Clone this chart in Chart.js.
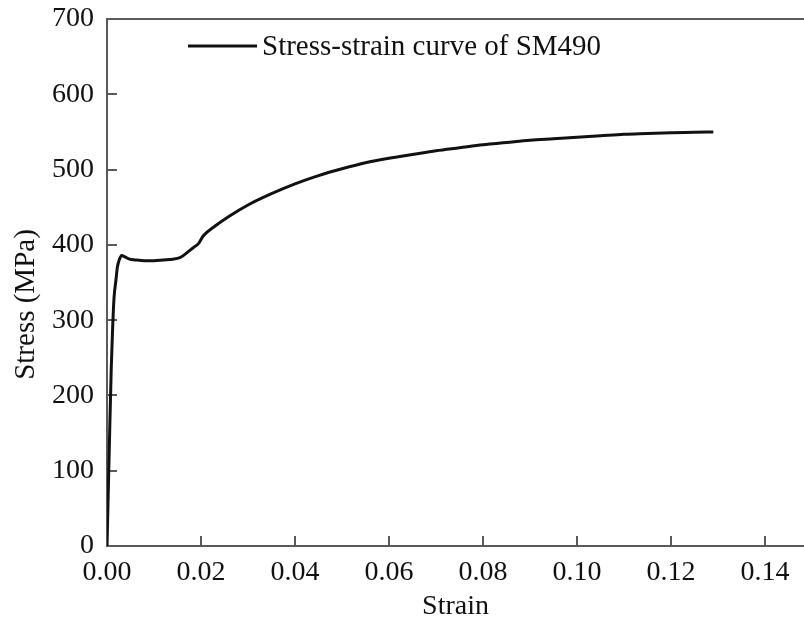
<!DOCTYPE html>
<html>
<head>
<meta charset="utf-8">
<script src="https://cdn.jsdelivr.net/npm/chart.js@4.4.1/dist/chart.umd.min.js"></script>
<style>
  html, body { margin: 0; padding: 0; background: #ffffff; }
  #wrap { width: 804px; height: 626px; }
</style>
</head>
<body>
<div id="wrap"><canvas id="c" width="804" height="626"></canvas></div>
<script>
// ---- data ----
const strain = [0, 0.0003, 0.0006, 0.0009, 0.0012, 0.0015, 0.0019, 0.0022, 0.0026, 0.0031, 0.0038, 0.0048, 0.006, 0.008, 0.010, 0.012, 0.014, 0.0155, 0.0165, 0.0175, 0.0185, 0.0195, 0.0205, 0.023, 0.026, 0.030, 0.035, 0.040, 0.045, 0.050, 0.055, 0.060, 0.065, 0.070, 0.075, 0.080, 0.085, 0.090, 0.095, 0.100, 0.105, 0.110, 0.115, 0.120, 0.125, 0.129];
const stress = [0, 80, 160, 235, 290, 330, 353, 370, 380, 386, 384, 381, 380, 379, 379, 380, 381, 383, 387, 392, 397, 402, 412, 425, 438, 453, 468, 481, 492, 501, 509, 515, 520, 525, 529, 533, 536, 539, 541, 543, 545, 547, 548, 549, 549.5, 550];
const xTickValues = [0, 0.02, 0.04, 0.06, 0.08, 0.10, 0.12, 0.14];
const yTickValues = [0, 100, 200, 300, 400, 500, 600, 700];
const seriesLabel = 'Stress-strain curve of SM490';
const xTitle = 'Strain';
const yTitle = 'Stress (MPa)';

const FONT = "'Liberation Serif', 'Times New Roman', serif";
const AXIS = '#5a5a5a';
const TEXT = '#111111';

// legend drawn inside the plot area (top-left) from the dataset label,
// and the y-axis title placed as in the reference
const extras = {
  id: 'extras',
  afterDatasetsDraw(chart) {
    const {ctx, chartArea} = chart;
    const ds = chart.data.datasets[0];
    const y = chartArea.top + 27;
    const x0 = chartArea.left + 81;
    ctx.save();
    ctx.strokeStyle = ds.borderColor;
    ctx.lineWidth = 3;
    ctx.beginPath();
    ctx.moveTo(x0, y);
    ctx.lineTo(x0 + 69, y);
    ctx.stroke();
    ctx.fillStyle = TEXT;
    ctx.font = "29px " + FONT;
    ctx.textBaseline = 'middle';
    ctx.textAlign = 'left';
    ctx.fillText(ds.label, x0 + 74, y + 1);
    ctx.restore();

    ctx.save();
    ctx.translate(26, (chartArea.top + chartArea.bottom) / 2 + 22);
    ctx.rotate(-Math.PI / 2);
    ctx.fillStyle = TEXT;
    ctx.font = "29px " + FONT;
    ctx.textAlign = 'center';
    ctx.textBaseline = 'middle';
    ctx.fillText(yTitle, 0, 0);
    ctx.restore();
  }
};

new Chart(document.getElementById('c'), {
  type: 'scatter',
  data: {
    datasets: [{
      label: seriesLabel,
      data: strain.map((x, i) => ({x: x, y: stress[i]})),
      showLine: true,
      borderColor: '#111111',
      borderWidth: 3,
      pointRadius: 0,
      cubicInterpolationMode: 'monotone',
      fill: false
    }]
  },
  options: {
    responsive: false,
    animation: false,
    devicePixelRatio: 1,
    layout: { padding: { top: 19, right: 0, left: 0, bottom: 0 } },
    plugins: { legend: { display: false }, tooltip: { enabled: false } },
    scales: {
      x: {
        type: 'linear',
        position: 'bottom',
        min: 0,
        max: 0.1483,
        afterBuildTicks: s => { s.ticks = xTickValues.map(v => ({value: v})); },
        afterFit: s => { s.height = 80; s.paddingLeft = 0; s.paddingRight = 0; },
        ticks: {
          color: TEXT,
          font: { family: FONT, size: 28 },
          padding: 20,
          maxRotation: 0,
          autoSkip: false,
          callback: v => Number(v).toFixed(2)
        },
        grid: { display: true, drawOnChartArea: false, drawTicks: true, tickLength: -10, color: AXIS, lineWidth: 2 },
        border: { display: true, color: AXIS, width: 2 },
        title: { display: true, text: xTitle, color: TEXT, font: { family: FONT, size: 28 }, padding: { top: 0, bottom: 3 } }
      },
      xTop: {
        type: 'linear',
        position: 'top',
        min: 0,
        max: 1,
        afterFit: s => { s.height = 0; s.paddingLeft = 0; s.paddingRight = 0; },
        ticks: { display: false },
        grid: { display: false, drawTicks: false },
        border: { display: true, color: AXIS, width: 2 }
      },
      y: {
        type: 'linear',
        min: 0,
        max: 700,
        afterBuildTicks: s => { s.ticks = yTickValues.map(v => ({value: v})); },
        afterFit: s => { s.width = 107; s.paddingTop = 0; s.paddingBottom = 0; },
        ticks: {
          color: TEXT,
          font: { family: FONT, size: 28 },
          padding: 23,
          autoSkip: false,
          callback: v => String(v)
        },
        grid: { display: true, drawOnChartArea: false, drawTicks: true, tickLength: -10, color: AXIS, lineWidth: 2 },
        border: { display: true, color: AXIS, width: 2 },
        title: { display: false }
      }
    }
  },
  plugins: [extras]
});
</script>
</body>
</html>
